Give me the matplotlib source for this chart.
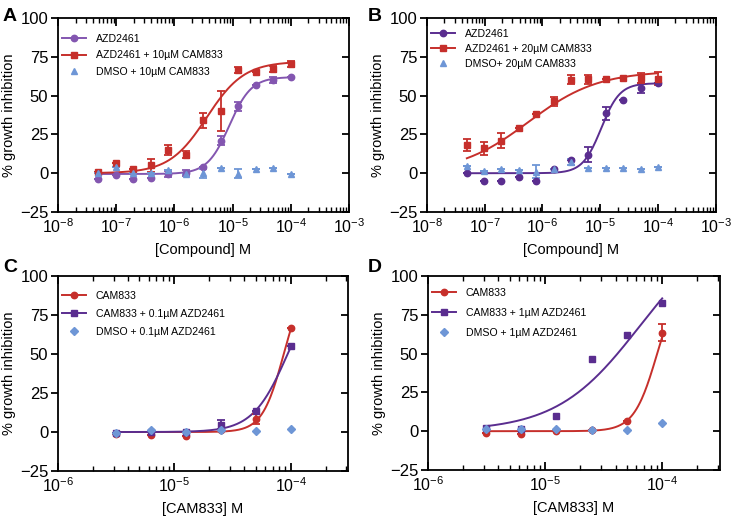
import numpy as np
import matplotlib
matplotlib.use('Agg')
import matplotlib.pyplot as plt
from matplotlib.ticker import LogLocator, FixedLocator, NullFormatter

plt.rcParams['font.family'] = ['Liberation Sans', 'DejaVu Sans']
plt.rcParams['mathtext.fontset'] = 'custom'
plt.rcParams['mathtext.rm'] = 'Liberation Sans'

# doses (M)
dose_ab = [4.9e-8, 9.8e-8, 1.95e-7, 3.9e-7, 7.8e-7, 1.56e-6, 3.13e-6, 6.25e-6, 1.25e-5, 2.5e-5, 5e-5, 1e-4]
dose_cd = [3.13e-6, 6.25e-6, 1.25e-5, 2.5e-5, 5e-5, 1e-4]

# panel A
a_azd = [-3.6, -1, -4, -3, -0.3, 0, 4, 21, 43, 57, 60, 62]
a_azd_err = [0, 0, 0, 0, 2, 2, 0, 3, 3, 0, 2, 0]
a_combo = [1, 6.4, 2.8, 5, 15, 12, 34, 40, 66.5, 65, 67, 70.5]
a_combo_err = [0, 0, 0, 4, 3, 2, 5, 13, 2, 0, 2, 2]
a_dmso = [0.4, 4, 0.4, 0.4, 2, -0.6, 0, 3.4, -0.4, 2.4, 3.6, -0.2]
a_dmso_err = [0, 0, 0, 0, 0, 0, 3, 0, 3, 0, 0, 0]

# panel B
b_azd = [0, -5, -4.7, -2.4, -5, 3, 8.6, 12, 38.6, 47, 55, 58]
b_azd_err = [0, 0, 0, 0, 0, 0, 0, 5, 4, 0, 3, 0]
b_combo = [18, 16, 21, 29, 38.4, 46.4, 60.3, 60.5, 61, 61.4, 61.4, 61]
b_combo_err = [4, 4, 5, 0, 0, 3, 3, 3, 0, 0, 3, 4]
b_dmso = [4.7, 1.7, 3, 2, 1, 2.6, 7, 3.6, 3.6, 3.6, 3, 4.3]
b_dmso_err = [0, 0, 0, 0, 4, 0, 2, 0, 0, 0, 0, 0]

# panel C
c_cam = [-1, -2, -2.8, 1, 8.3, 66.5]
c_cam_err = [0, 0, 0, 0, 3, 0]
c_combo = [-0.6, 0, 0, 4.7, 13.6, 55.4]
c_combo_err = [0, 0, 0, 3, 0, 0]
c_dmso = [-0.6, 1.3, 0.2, 1.3, 0.9, 2.1]

# panel D
d_cam = [-1, -1.7, 0, 0.9, 6.7, 63.5]
d_cam_err = [0, 0, 0, 0, 0, 5.5]
d_combo = [2, 1.3, 9.7, 46.8, 62.2, 82.4]
d_dmso = [1.3, 1.3, 1.7, 1, 1, 5.2]

# 4PL fit parameters: bottom, top, EC50, hill
fit_a_azd = (-0.5, 62, 8.8e-6, 2.3)
fit_a_combo = (0, 72, 3.6e-6, 1.35)
fit_b_azd = (0, 58, 1.04e-5, 2.7)
fit_b_combo = (0, 66, 5.7e-7, 0.72)
fit_c_cam = (0, 100, 8.7e-5, 4.7)
fit_c_combo = (0, 100, 9.4e-5, 2.9)
fit_d_cam = (0, 100, 9.06e-5, 4.4)
fit_d_combo = (0, 135, 6.4e-5, 1.23)

RED = '#c62f2b'
PURPLE_L = '#8356b0'
PURPLE = '#5a2d8f'
BLUE = '#6e96d6'


def logistic(x, p):
    b, t, ec, h = p
    return b + (t - b) / (1 + (ec / x) ** h)


def series(ax, x, y, err, fit, color, marker, ms, label):
    xs = np.logspace(np.log10(x[0]), np.log10(x[-1]), 200)
    if fit is not None:
        ax.plot(xs, logistic(xs, fit), color=color, lw=1.4, zorder=2)
    if err is not None:
        ax.errorbar(x, y, yerr=err, fmt='none', ecolor=color, elinewidth=1.3,
                    capsize=3, capthick=1.3, zorder=3)
    ax.plot(x, y, ls='none', marker=marker, ms=ms, color=color, zorder=4)
    # legend handle
    ax.plot([], [], ls='-' if fit is not None else 'none', lw=1.4,
            marker=marker, ms=ms, color=color, label=label)


def style(ax, xlim, xlabel, majors, leg_top, leg_space):
    ax.set_xscale('log')
    ax.set_xlim(*xlim)
    ax.set_ylim(-25, 100)
    ax.set_yticks([-25, 0, 25, 50, 75, 100])
    ax.xaxis.set_major_locator(FixedLocator(majors))
    ax.xaxis.set_minor_locator(LogLocator(base=10, subs=np.arange(2, 10), numticks=20))
    ax.xaxis.set_minor_formatter(NullFormatter())
    for s in ax.spines.values():
        s.set_linewidth(1.3)
    ax.tick_params(axis='y', which='both', direction='out', length=5, width=1.3,
                   labelsize=12, right=False, pad=2)
    ax.tick_params(axis='x', which='major', direction='in', length=6, width=1.3,
                   labelsize=11.5, top=True, pad=4)
    ax.tick_params(axis='x', which='minor', direction='in', length=3.5, width=1,
                   top=True)
    # mirrored inward ticks on the right spine
    sec = ax.secondary_yaxis('right')
    sec.set_yticks([-25, 0, 25, 50, 75, 100])
    sec.tick_params(direction='in', length=5, width=1.3, labelright=False)
    sec.spines['right'].set_visible(False)
    ax.set_ylabel('% growth inhibition', fontsize=10.5, labelpad=3)
    ax.set_xlabel(xlabel, fontsize=10.5, labelpad=5)
    ax.legend(loc='upper left', frameon=False, fontsize=7.6, handlelength=2.3,
              handletextpad=0.9, borderaxespad=0.0, labelspacing=leg_space,
              bbox_to_anchor=(0.0, leg_top))


fig = plt.figure(figsize=(7.33, 5.18), dpi=100)
axA = fig.add_axes([0.0791, 0.5907, 0.397, 0.3745])
axB = fig.add_axes([0.5825, 0.5907, 0.394, 0.3745])
axC = fig.add_axes([0.0791, 0.0907, 0.3956, 0.3764])
axD = fig.add_axes([0.5839, 0.0927, 0.398, 0.3745])

series(axA, dose_ab, a_azd, a_azd_err, fit_a_azd, PURPLE_L, 'o', 4.6, 'AZD2461')
series(axA, dose_ab, a_combo, a_combo_err, fit_a_combo, RED, 's', 4.6, 'AZD2461 + 10\u00b5M CAM833')
series(axA, dose_ab, a_dmso, a_dmso_err, None, BLUE, '^', 4.2, 'DMSO + 10\u00b5M CAM833')

series(axB, dose_ab, b_azd, b_azd_err, fit_b_azd, PURPLE, 'o', 4.6, 'AZD2461')
series(axB, dose_ab, b_combo, b_combo_err, fit_b_combo, RED, 's', 4.6, 'AZD2461 + 20\u00b5M CAM833')
series(axB, dose_ab, b_dmso, b_dmso_err, None, BLUE, '^', 4.2, 'DMSO+ 20\u00b5M CAM833')

series(axC, dose_cd, c_cam, c_cam_err, fit_c_cam, RED, 'o', 4.6, 'CAM833')
series(axC, dose_cd, c_combo, c_combo_err, fit_c_combo, PURPLE, 's', 4.6, 'CAM833 + 0.1\u00b5M AZD2461')
series(axC, dose_cd, c_dmso, None, None, BLUE, 'D', 3.8, 'DMSO + 0.1\u00b5M AZD2461')

series(axD, dose_cd, d_cam, d_cam_err, fit_d_cam, RED, 'o', 4.6, 'CAM833')
series(axD, dose_cd, d_combo, None, fit_d_combo, PURPLE, 's', 4.6, 'CAM833 + 1\u00b5M AZD2461')
series(axD, dose_cd, d_dmso, None, None, BLUE, 'D', 3.8, 'DMSO + 1\u00b5M AZD2461')

style(axA, (1e-8, 1e-3), '[Compound] M', [1e-8, 1e-7, 1e-6, 1e-5, 1e-4, 1e-3], 0.94, 0.62)
style(axB, (1e-8, 1e-3), '[Compound] M', [1e-8, 1e-7, 1e-6, 1e-5, 1e-4, 1e-3], 0.965, 0.48)
style(axC, (1e-6, 3.1e-4), '[CAM833] M', [1e-6, 1e-5, 1e-4], 0.945, 0.76)
style(axD, (1e-6, 3.1e-4), '[CAM833] M', [1e-6, 1e-5, 1e-4], 0.96, 0.95)

for lab, x, y in [('A', 0.004, 0.985), ('B', 0.502, 0.985), ('C', 0.004, 0.5), ('D', 0.502, 0.5)]:
    fig.text(x, y, lab, fontsize=14, fontweight='bold', va='top', ha='left')

fig.savefig('out.png', dpi=100)
